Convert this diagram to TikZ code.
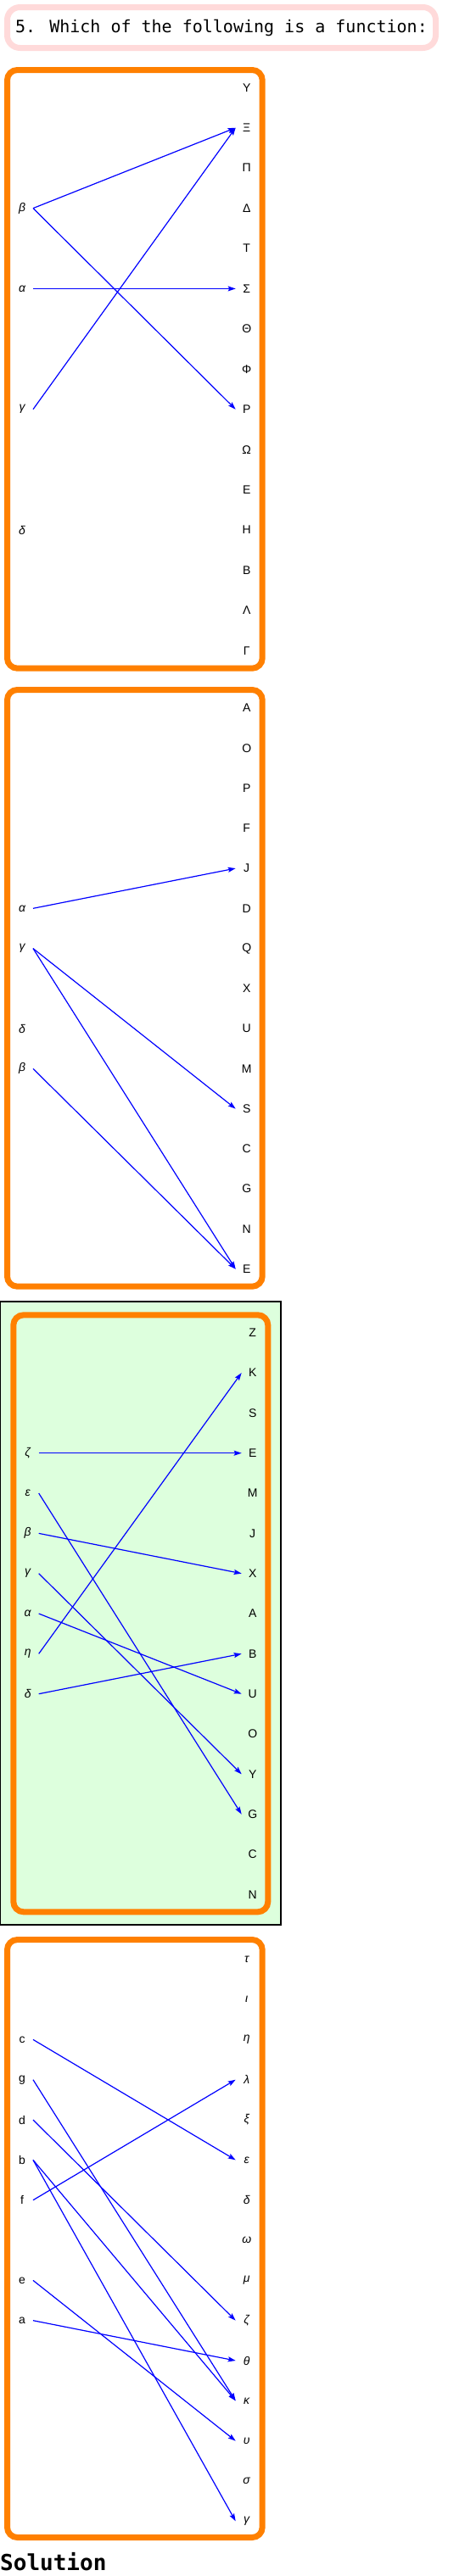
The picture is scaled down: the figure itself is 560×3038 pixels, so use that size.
\documentclass[tikz,border=0pt]{standalone}
\usepackage{fontspec}
\setmainfont{Liberation Sans}
\newfontfamily\qmono{DejaVu Sans Mono}
\usetikzlibrary{arrows.meta}
\definecolor{boxorange}{RGB}{255,128,0}
\definecolor{titlepink}{RGB}{255,218,218}
\definecolor{solgreen}{RGB}{221,255,221}

\begin{document}
\begin{tikzpicture}[x=1pt, y=-1pt,
    frame/.style={draw=boxorange, line width=7pt, rounded corners=12pt},
    lbl/.style={inner sep=0pt, outer xsep=7pt, minimum width=12pt, font=\fontsize{14}{16}\selectfont},
    conn/.style={draw=blue, line width=1.2pt, -{Stealth[length=9pt,width=6pt,inset=1.5pt]}}]
  \useasboundingbox (0,0) rectangle (560,3038);
  % Question
  \node[draw=titlepink, line width=7pt, rounded corners=15pt, minimum width=505pt, minimum height=48pt,
        inner sep=0pt, font=\qmono\fontsize{20}{24}\selectfont] (question) at (261,32.5)
        {5. Which of the following is a function:};

  % ---- Box 1
  \draw[frame] (8.5,82.5) rectangle (309.2,788.2);
  \foreach \t [count=\i from 0] in {Υ,Ξ,Π,Δ,Τ,Σ,Θ,Φ,Ρ,Ω,Ε,Η,Β,Λ,Γ}
    \node[lbl] (p1-\i) at (290.7,{103.3+47.43*\i}) {\t};
  \node[lbl] (s1-beta) at (26,{103.3+47.43*3}) {\itshape β};
  \node[lbl] (s1-alpha) at (26,{103.3+47.43*5}) {\itshape α};
  \node[lbl] (s1-gamma) at (26,{103.3+47.43*8}) {\itshape γ};
  \node[lbl] (s1-delta) at (26,{103.3+47.43*11}) {\itshape δ};
  \draw[conn] (s1-beta.east) -- (p1-1.west);
  \draw[conn] (s1-beta.east) -- (p1-8.west);
  \draw[conn] (s1-alpha.east) -- (p1-5.west);
  \draw[conn] (s1-gamma.east) -- (p1-1.west);

  % ---- Box 2
  \draw[frame] (8.5,813.5) rectangle (309.2,1517.2);
  \foreach \t [count=\i from 0] in {A,O,P,F,J,D,Q,X,U,M,S,C,G,N,E}
    \node[lbl] (p2-\i) at (290.7,{835+47.26*\i}) {\t};
  \node[lbl] (s2-alpha) at (26,{835+47.26*5}) {\itshape α};
  \node[lbl] (s2-gamma) at (26,{835+47.26*6}) {\itshape γ};
  \node[lbl] (s2-delta) at (26,{835+47.26*8}) {\itshape δ};
  \node[lbl] (s2-beta) at (26,{835+47.26*9}) {\itshape β};
  \draw[conn] (s2-alpha.east) -- (p2-4.west);
  \draw[conn] (s2-gamma.east) -- (p2-10.west);
  \draw[conn] (s2-gamma.east) -- (p2-14.west);
  \draw[conn] (s2-beta.east) -- (p2-14.west);

  % ---- Box 3 (solution)
  \draw[fill=solgreen, line width=1.2pt] (0.6,1535) rectangle (331,2270);
  \draw[frame] (15.8,1550.8) rectangle (315.8,2254.8);
  \foreach \t [count=\i from 0] in {Z,K,S,E,M,J,X,A,B,U,O,Y,G,C,N}
    \node[lbl] (p3-\i) at (297.7,{1571.7+47.33*\i}) {\t};
  \node[lbl] (s3-zeta) at (32.7,{1571.7+47.33*3}) {\itshape ζ};
  \node[lbl] (s3-eps) at (32.7,{1571.7+47.33*4}) {\itshape ε};
  \node[lbl] (s3-beta) at (32.7,{1571.7+47.33*5}) {\itshape β};
  \node[lbl] (s3-gamma) at (32.7,{1571.7+47.33*6}) {\itshape γ};
  \node[lbl] (s3-alpha) at (32.7,{1571.7+47.33*7}) {\itshape α};
  \node[lbl] (s3-eta) at (32.7,{1571.7+47.33*8}) {\itshape η};
  \node[lbl] (s3-delta) at (32.7,{1571.7+47.33*9}) {\itshape δ};
  \draw[conn] (s3-zeta.east) -- (p3-3.west);
  \draw[conn] (s3-eps.east) -- (p3-12.west);
  \draw[conn] (s3-beta.east) -- (p3-6.west);
  \draw[conn] (s3-gamma.east) -- (p3-11.west);
  \draw[conn] (s3-alpha.east) -- (p3-9.west);
  \draw[conn] (s3-eta.east) -- (p3-1.west);
  \draw[conn] (s3-delta.east) -- (p3-8.west);

  % ---- Box 4
  \draw[frame] (8.5,2287.5) rectangle (309.2,2992.5);
  \foreach \t [count=\i from 0] in {τ,ι,η,λ,ξ,ε,δ,ω,μ,ζ,θ,κ,υ,σ,γ}
    \node[lbl] (p4-\i) at (290.7,{2310.7+47.33*\i}) {\itshape\t};
  \node[lbl] (s4-c) at (26,{2310.7+47.33*2}) {c};
  \node[lbl] (s4-g) at (26,{2310.7+47.33*3}) {g};
  \node[lbl] (s4-d) at (26,{2310.7+47.33*4}) {d};
  \node[lbl] (s4-b) at (26,{2310.7+47.33*5}) {b};
  \node[lbl] (s4-f) at (26,{2310.7+47.33*6}) {f};
  \node[lbl] (s4-e) at (26,{2310.7+47.33*8}) {e};
  \node[lbl] (s4-a) at (26,{2310.7+47.33*9}) {a};
  \draw[conn] (s4-c.east) -- (p4-5.west);
  \draw[conn] (s4-g.east) -- (p4-11.west);
  \draw[conn] (s4-d.east) -- (p4-9.west);
  \draw[conn] (s4-b.east) -- (p4-11.west);
  \draw[conn] (s4-b.east) -- (p4-14.west);
  \draw[conn] (s4-f.east) -- (p4-3.west);
  \draw[conn] (s4-e.east) -- (p4-12.west);
  \draw[conn] (s4-a.east) -- (p4-10.west);

  \node[anchor=base west, inner sep=0pt, font=\qmono\bfseries\fontsize{26}{30}\selectfont] (solution) at (0,3031.7) {Solution};
\end{tikzpicture}
\end{document}
